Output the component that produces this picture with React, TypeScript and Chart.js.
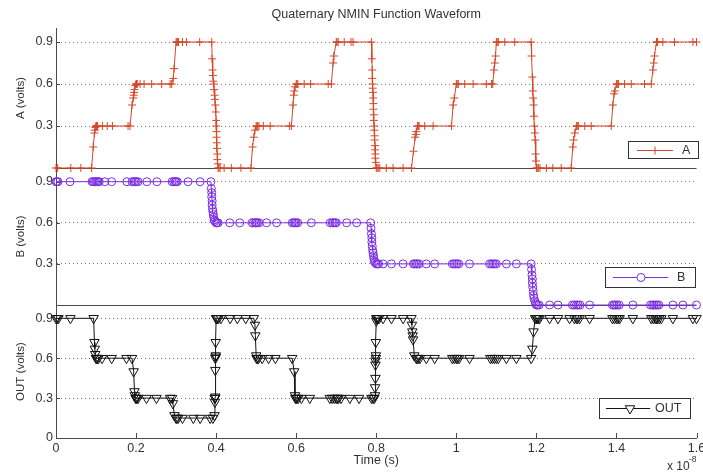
import React, { useEffect, useRef } from 'react';
import { Chart, registerables } from 'chart.js';

Chart.register(...registerables);

// ---------- text ----------
const chartTitle = 'Quaternary NMIN Function Waveform';
const xAxisTitle = 'Time (s)';
const yTitleA = 'A (volts)';
const yTitleB = 'B (volts)';
const yTitleOut = 'OUT (volts)';
const xExponentBase = 'x 10';
const xExponentPower = '-8';

// ---------- ticks ----------
const xTickValues = [0, 0.2, 0.4, 0.6, 0.8, 1, 1.2, 1.4, 1.6];
const xTickLabels = ['0', '0.2', '0.4', '0.6', '0.8', '1', '1.2', '1.4', '1.6'];
const yTickValuesAB = [0.3, 0.6, 0.9];
const yTickLabelsAB = ['0.3', '0.6', '0.9'];
const yTickValuesOut = [0, 0.3, 0.6, 0.9];
const yTickLabelsOut = ['0', '0.3', '0.6', '0.9'];

// ---------- series (time in units of 1e-8 s, value in volts) ----------
const seriesA: [number, number][] = [
  [0, 0], [0.004, 0], [0.037, 0], [0.062, 0], [0.089, 0],
  [0.093, 0.15], [0.096, 0.25], [0.097, 0.27], [0.098, 0.29], [0.1, 0.3], [0.101, 0.3], [0.102, 0.3], [0.104, 0.3],
  [0.116, 0.3], [0.128, 0.3], [0.141, 0.3], [0.18, 0.3], [0.185, 0.3],
  [0.19, 0.45], [0.193, 0.5], [0.194, 0.52], [0.195, 0.54], [0.196, 0.56], [0.198, 0.59], [0.2, 0.6], [0.201, 0.6], [0.203, 0.6],
  [0.21, 0.6], [0.22, 0.6], [0.239, 0.6], [0.264, 0.6], [0.285, 0.6], [0.289, 0.6],
  [0.293, 0.64], [0.295, 0.71], [0.3, 0.9], [0.302, 0.9], [0.304, 0.9], [0.306, 0.9],
  [0.316, 0.9], [0.326, 0.9], [0.359, 0.9], [0.389, 0.9],
  [0.39, 0.78], [0.391, 0.7], [0.392, 0.66], [0.393, 0.62], [0.394, 0.6], [0.395, 0.56], [0.396, 0.52], [0.397, 0.49],
  [0.398, 0.45], [0.399, 0.4], [0.4, 0.34], [0.4, 0.3], [0.401, 0.26], [0.401, 0.22], [0.402, 0.18], [0.402, 0.14],
  [0.403, 0.1], [0.403, 0.06], [0.404, 0.03], [0.405, 0],
  [0.407, 0], [0.41, 0], [0.42, 0], [0.438, 0], [0.462, 0], [0.487, 0],
  [0.491, 0.15], [0.494, 0.22], [0.497, 0.27], [0.5, 0.3], [0.502, 0.3], [0.504, 0.3], [0.507, 0.3],
  [0.518, 0.3], [0.535, 0.3], [0.583, 0.3], [0.588, 0.3],
  [0.592, 0.45], [0.594, 0.52], [0.595, 0.55], [0.597, 0.58], [0.6, 0.6], [0.602, 0.6], [0.604, 0.6],
  [0.62, 0.6], [0.636, 0.6], [0.68, 0.6], [0.688, 0.6],
  [0.692, 0.75], [0.694, 0.8], [0.7, 0.9], [0.702, 0.9], [0.705, 0.9],
  [0.72, 0.9], [0.737, 0.9], [0.742, 0.9], [0.788, 0.9],
  [0.789, 0.78], [0.79, 0.7], [0.79, 0.64], [0.791, 0.6], [0.791, 0.57], [0.792, 0.54], [0.792, 0.5], [0.793, 0.46],
  [0.793, 0.42], [0.794, 0.38], [0.794, 0.34], [0.795, 0.3], [0.795, 0.27], [0.796, 0.23], [0.796, 0.2], [0.797, 0.16],
  [0.797, 0.13], [0.798, 0.1], [0.798, 0.07], [0.799, 0.04], [0.8, 0],
  [0.802, 0], [0.805, 0], [0.809, 0], [0.825, 0], [0.842, 0], [0.867, 0], [0.888, 0],
  [0.893, 0.12], [0.897, 0.22], [0.899, 0.24], [0.9, 0.26], [0.903, 0.3], [0.905, 0.3], [0.907, 0.3],
  [0.921, 0.3], [0.942, 0.3], [0.988, 0.3],
  [0.992, 0.45], [0.995, 0.5], [1.0, 0.6], [1.002, 0.6], [1.005, 0.6],
  [1.021, 0.6], [1.042, 0.6], [1.075, 0.6], [1.088, 0.6], [1.091, 0.6],
  [1.094, 0.7], [1.096, 0.75], [1.098, 0.8], [1.1, 0.9], [1.102, 0.9], [1.105, 0.9],
  [1.121, 0.9], [1.146, 0.9], [1.187, 0.9],
  [1.188, 0.8], [1.19, 0.65], [1.191, 0.55], [1.192, 0.5], [1.193, 0.45], [1.194, 0.37], [1.195, 0.3], [1.196, 0.25],
  [1.197, 0.2], [1.198, 0.1], [1.199, 0.05], [1.2, 0],
  [1.202, 0], [1.205, 0], [1.209, 0], [1.225, 0], [1.241, 0], [1.262, 0], [1.287, 0],
  [1.291, 0.15], [1.293, 0.2], [1.296, 0.25], [1.3, 0.3], [1.302, 0.3], [1.305, 0.3],
  [1.321, 0.3], [1.337, 0.3], [1.387, 0.3],
  [1.391, 0.45], [1.394, 0.53], [1.396, 0.55], [1.4, 0.6], [1.402, 0.6], [1.405, 0.6],
  [1.42, 0.6], [1.437, 0.6], [1.47, 0.6], [1.487, 0.6],
  [1.491, 0.7], [1.493, 0.75], [1.495, 0.8], [1.5, 0.9], [1.501, 0.9], [1.503, 0.9],
  [1.516, 0.9], [1.545, 0.9], [1.591, 0.9], [1.6, 0.9],
];

const seriesB: [number, number][] = [
  [0, 0.9], [0.002, 0.9], [0.005, 0.9], [0.035, 0.9],
  [0.09, 0.9], [0.093, 0.9], [0.096, 0.9], [0.099, 0.9], [0.102, 0.9], [0.105, 0.9], [0.108, 0.9],
  [0.122, 0.9], [0.139, 0.9], [0.177, 0.9], [0.19, 0.9], [0.194, 0.9], [0.198, 0.9], [0.201, 0.9], [0.205, 0.9],
  [0.227, 0.9], [0.252, 0.9], [0.29, 0.9], [0.294, 0.9], [0.298, 0.9], [0.3, 0.9], [0.303, 0.9], [0.33, 0.9], [0.36, 0.9], [0.387, 0.9],
  [0.388, 0.85], [0.389, 0.82], [0.389, 0.79], [0.39, 0.76], [0.39, 0.73], [0.391, 0.7], [0.392, 0.68], [0.393, 0.66],
  [0.394, 0.64], [0.395, 0.62], [0.397, 0.61], [0.4, 0.6], [0.402, 0.6], [0.405, 0.6],
  [0.434, 0.6], [0.459, 0.6], [0.49, 0.6], [0.494, 0.6], [0.498, 0.6], [0.5, 0.6], [0.503, 0.6], [0.507, 0.6],
  [0.526, 0.6], [0.551, 0.6], [0.59, 0.6], [0.594, 0.6], [0.597, 0.6], [0.6, 0.6], [0.604, 0.6], [0.638, 0.6],
  [0.685, 0.6], [0.69, 0.6], [0.693, 0.6], [0.697, 0.6], [0.7, 0.6], [0.726, 0.6], [0.751, 0.6], [0.786, 0.6],
  [0.787, 0.56], [0.788, 0.52], [0.789, 0.49], [0.789, 0.46], [0.79, 0.43], [0.791, 0.4], [0.792, 0.38], [0.793, 0.36],
  [0.794, 0.34], [0.795, 0.32], [0.797, 0.31], [0.8, 0.3], [0.803, 0.3], [0.806, 0.3],
  [0.817, 0.3], [0.838, 0.3], [0.867, 0.3], [0.893, 0.3], [0.896, 0.3], [0.9, 0.3], [0.903, 0.3], [0.907, 0.3],
  [0.925, 0.3], [0.946, 0.3], [0.99, 0.3], [0.994, 0.3], [0.998, 0.3], [1.002, 0.3], [1.006, 0.3], [1.033, 0.3],
  [1.083, 0.3], [1.088, 0.3], [1.092, 0.3], [1.096, 0.3], [1.1, 0.3], [1.125, 0.3], [1.15, 0.3], [1.187, 0.3],
  [1.188, 0.26], [1.189, 0.22], [1.19, 0.19], [1.19, 0.16], [1.191, 0.13], [1.192, 0.1], [1.193, 0.07], [1.194, 0.05],
  [1.196, 0.03], [1.198, 0.01], [1.2, 0], [1.203, 0], [1.207, 0],
  [1.233, 0], [1.254, 0], [1.29, 0], [1.295, 0], [1.3, 0], [1.304, 0], [1.309, 0], [1.333, 0],
  [1.39, 0], [1.394, 0], [1.398, 0], [1.402, 0], [1.407, 0], [1.441, 0],
  [1.485, 0], [1.49, 0], [1.494, 0], [1.498, 0], [1.502, 0], [1.506, 0], [1.541, 0], [1.566, 0], [1.6, 0],
];

const seriesOut: [number, number][] = [
  [0, 0.9], [0.003, 0.9], [0.006, 0.9], [0.036, 0.9], [0.094, 0.9],
  [0.096, 0.72], [0.097, 0.67], [0.098, 0.63], [0.1, 0.6], [0.101, 0.6], [0.103, 0.6], [0.106, 0.6],
  [0.115, 0.6], [0.139, 0.6], [0.176, 0.6], [0.19, 0.6],
  [0.194, 0.5], [0.196, 0.35], [0.197, 0.32], [0.199, 0.3], [0.2, 0.3], [0.202, 0.3], [0.205, 0.3],
  [0.226, 0.3], [0.251, 0.3], [0.285, 0.3], [0.29, 0.3],
  [0.292, 0.26], [0.296, 0.17], [0.3, 0.15], [0.302, 0.15], [0.305, 0.15],
  [0.316, 0.15], [0.343, 0.15], [0.36, 0.15], [0.385, 0.15], [0.392, 0.15],
  [0.396, 0.17], [0.397, 0.27], [0.397, 0.3], [0.397, 0.3], [0.398, 0.31], [0.398, 0.51], [0.398, 0.6], [0.399, 0.61],
  [0.399, 0.62], [0.399, 0.72], [0.4, 0.9], [0.401, 0.9], [0.403, 0.9], [0.406, 0.9],
  [0.412, 0.9], [0.435, 0.9], [0.453, 0.9], [0.474, 0.9], [0.494, 0.9],
  [0.497, 0.85], [0.498, 0.77], [0.5, 0.62], [0.501, 0.6], [0.503, 0.6], [0.506, 0.6],
  [0.515, 0.6], [0.531, 0.6], [0.548, 0.6], [0.59, 0.6],
  [0.595, 0.5], [0.597, 0.32], [0.598, 0.3], [0.6, 0.3], [0.602, 0.3], [0.605, 0.3],
  [0.613, 0.3], [0.634, 0.3], [0.684, 0.3], [0.69, 0.3], [0.695, 0.3], [0.7, 0.3], [0.703, 0.3], [0.706, 0.3],
  [0.712, 0.3], [0.734, 0.3], [0.757, 0.3], [0.788, 0.3], [0.792, 0.3], [0.795, 0.3],
  [0.797, 0.32], [0.797, 0.38], [0.798, 0.45], [0.798, 0.55], [0.798, 0.58], [0.799, 0.6], [0.799, 0.62], [0.799, 0.72],
  [0.8, 0.88], [0.8, 0.9], [0.802, 0.9], [0.804, 0.9], [0.807, 0.9],
  [0.817, 0.9], [0.838, 0.9], [0.867, 0.9], [0.888, 0.9],
  [0.889, 0.85], [0.89, 0.8], [0.891, 0.77], [0.892, 0.74], [0.895, 0.62], [0.9, 0.6], [0.902, 0.6], [0.905, 0.6], [0.909, 0.6],
  [0.925, 0.6], [0.946, 0.6], [0.99, 0.6], [0.995, 0.6], [1.0, 0.6], [1.003, 0.6], [1.007, 0.6], [1.033, 0.6],
  [1.085, 0.6], [1.09, 0.6], [1.095, 0.6], [1.1, 0.6], [1.105, 0.6], [1.125, 0.6], [1.15, 0.6], [1.187, 0.6],
  [1.19, 0.67], [1.193, 0.8], [1.197, 0.9], [1.2, 0.9], [1.202, 0.9], [1.205, 0.9], [1.208, 0.9],
  [1.233, 0.9], [1.254, 0.9], [1.283, 0.9], [1.295, 0.9], [1.3, 0.9], [1.303, 0.9], [1.308, 0.9], [1.333, 0.9],
  [1.39, 0.9], [1.395, 0.9], [1.4, 0.9], [1.404, 0.9], [1.408, 0.9], [1.441, 0.9],
  [1.487, 0.9], [1.492, 0.9], [1.497, 0.9], [1.5, 0.9], [1.503, 0.9], [1.507, 0.9], [1.512, 0.9], [1.541, 0.9], [1.591, 0.9],
  [1.6, 0.9],
];

// ---------- style ----------
const FONT = '"Liberation Sans", Arial, Helvetica, sans-serif';
const TEXT_COLOR = '#333333';
const AXIS_COLOR = '#4a4a4a';
const GRID_COLOR = '#7a7a7a';
const COLOR_A = '#d4492a';
const COLOR_B = '#7b2fe0';
const COLOR_OUT = '#111111';

function drawMarker(ctx: CanvasRenderingContext2D, kind: string, x: number, y: number, color: string) {
  ctx.save();
  ctx.strokeStyle = color;
  ctx.lineWidth = 1;
  ctx.beginPath();
  if (kind === 'cross') {
    ctx.moveTo(x - 4, y); ctx.lineTo(x + 4, y);
    ctx.moveTo(x, y - 4); ctx.lineTo(x, y + 4);
  } else if (kind === 'circle') {
    ctx.fillStyle = '#fff';
    ctx.arc(x, y, 4, 0, Math.PI * 2);
    ctx.fill();
  } else {
    const r = 5.5;
    ctx.fillStyle = '#fff';
    ctx.moveTo(x, y + r);
    ctx.lineTo(x - r * Math.sin(Math.PI / 3), y - r / 2);
    ctx.lineTo(x + r * Math.sin(Math.PI / 3), y - r / 2);
    ctx.closePath();
    ctx.fill();
  }
  ctx.stroke();
  ctx.restore();
}

const decorPlugin = {
  id: 'matlabDecor',
  beforeDatasetsDraw(chart: any) {
    const ctx = chart.ctx as CanvasRenderingContext2D;
    const { left, right } = chart.chartArea;
    ctx.save();
    ctx.strokeStyle = AXIS_COLOR;
    ctx.lineWidth = 1;
    ['yA', 'yB'].forEach((id) => {
      const y = Math.round(chart.scales[id].bottom) + 0.5;
      ctx.beginPath();
      ctx.moveTo(left, y);
      ctx.lineTo(right, y);
      ctx.stroke();
    });
    // inward tick marks on y axes
    ['yA', 'yB', 'yOut'].forEach((id) => {
      const s = chart.scales[id];
      s.ticks.forEach((t: any) => {
        const y = Math.round(s.getPixelForValue(t.value)) + 0.5;
        ctx.beginPath();
        ctx.moveTo(left, y);
        ctx.lineTo(left + 4, y);
        ctx.stroke();
      });
    });
    // inward tick marks on x axis
    const sx = chart.scales.x;
    const yb = chart.chartArea.bottom;
    sx.ticks.forEach((t: any) => {
      const x = Math.round(sx.getPixelForValue(t.value)) + 0.5;
      ctx.beginPath();
      ctx.moveTo(x, yb);
      ctx.lineTo(x, yb - 5);
      ctx.stroke();
    });
    ctx.restore();
  },
  afterDraw(chart: any) {
    const ctx = chart.ctx as CanvasRenderingContext2D;
    const { right } = chart.chartArea;
    const legends = [
      { scale: 'yA', label: chart.data.datasets[0].label, color: COLOR_A, marker: 'cross', rOff: 1, bOff: 10, w: 70, h: 17, l1: 9, l2: 45, m: 27, t: 54 },
      { scale: 'yB', label: chart.data.datasets[1].label, color: COLOR_B, marker: 'circle', rOff: -2, bOff: 18, w: 90, h: 20, l1: 8, l2: 63, m: 36, t: 72 },
      { scale: 'yOut', label: chart.data.datasets[2].label, color: COLOR_OUT, marker: 'triangle', rOff: -7, bOff: 20, w: 91, h: 20, l1: 7, l2: 51, m: 31, t: 56 },
    ];
    ctx.save();
    legends.forEach((lg) => {
      const s = chart.scales[lg.scale];
      const x = Math.round(right + lg.rOff - lg.w);
      const y = Math.round(s.bottom - lg.bOff - lg.h);
      ctx.fillStyle = '#ffffff';
      ctx.fillRect(x, y, lg.w, lg.h);
      ctx.strokeStyle = '#333';
      ctx.lineWidth = 1;
      ctx.strokeRect(x + 0.5, y + 0.5, lg.w, lg.h);
      const cy = Math.round(y + lg.h / 2) + 0.5;
      ctx.strokeStyle = lg.color;
      ctx.beginPath();
      ctx.moveTo(x + lg.l1, cy);
      ctx.lineTo(x + lg.l2, cy);
      ctx.stroke();
      drawMarker(ctx, lg.marker, x + lg.m, cy, lg.color);
      ctx.fillStyle = TEXT_COLOR;
      ctx.font = `12.5px ${FONT}`;
      ctx.textAlign = 'left';
      ctx.textBaseline = 'middle';
      ctx.fillText(lg.label, x + lg.t, cy + 0.5);
    });
    // exponent label
    ctx.fillStyle = TEXT_COLOR;
    ctx.textBaseline = 'middle';
    ctx.textAlign = 'left';
    ctx.font = `12px ${FONT}`;
    ctx.fillText(xExponentBase, 667, 467);
    ctx.font = `8.5px ${FONT}`;
    ctx.fillText(xExponentPower, 689, 460);
    ctx.restore();
  },
};

function yScale(ticks: number[], labels: string[], title: string, weight: number) {
  return {
    type: 'linear',
    position: 'left',
    stack: 'panels',
    stackWeight: weight,
    min: 0,
    max: 1,
    afterBuildTicks: (s: any) => {
      s.ticks = ticks.map((v) => ({ value: v }));
    },
    afterFit: (s: any) => {
      s.width = 56;
      s.paddingTop = 0;
      s.paddingBottom = 0;
    },
    ticks: {
      callback: (_v: any, i: number) => labels[i],
      font: { family: FONT, size: 12.5 },
      color: TEXT_COLOR,
      padding: 3,
    },
    grid: { color: GRID_COLOR, lineWidth: 1, drawTicks: false },
    border: { display: true, color: AXIS_COLOR, width: 1, dash: [1, 3] },
    title: {
      display: true,
      text: title,
      font: { family: FONT, size: 11.5 },
      color: TEXT_COLOR,
      padding: { top: 14, bottom: 0 },
    },
  };
}

export default function App() {
  const canvasRef = useRef<HTMLCanvasElement | null>(null);

  useEffect(() => {
    const canvas = canvasRef.current;
    if (!canvas) return;
    const chart = new Chart(canvas, {
      type: 'line',
      data: {
        datasets: [
          {
            label: 'A',
            data: seriesA.map(([x, y]) => ({ x, y })),
            xAxisID: 'x',
            yAxisID: 'yA',
            borderColor: COLOR_A,
            borderWidth: 1,
            pointStyle: 'cross',
            pointRadius: 4,
            pointBorderWidth: 1,
            pointBorderColor: COLOR_A,
            pointBackgroundColor: COLOR_A,
            tension: 0,
            fill: false,
            clip: false,
          },
          {
            label: 'B',
            data: seriesB.map(([x, y]) => ({ x, y })),
            xAxisID: 'x',
            yAxisID: 'yB',
            borderColor: COLOR_B,
            borderWidth: 1,
            pointStyle: 'circle',
            pointRadius: 4,
            pointBorderWidth: 1,
            pointBorderColor: COLOR_B,
            pointBackgroundColor: 'rgba(0,0,0,0)',
            tension: 0,
            fill: false,
            clip: false,
          },
          {
            label: 'OUT',
            data: seriesOut.map(([x, y]) => ({ x, y })),
            xAxisID: 'x',
            yAxisID: 'yOut',
            borderColor: COLOR_OUT,
            borderWidth: 1,
            pointStyle: 'triangle',
            pointRotation: 180,
            pointRadius: 5.5,
            pointBorderWidth: 1,
            pointBorderColor: COLOR_OUT,
            pointBackgroundColor: 'rgba(0,0,0,0)',
            tension: 0,
            fill: false,
            clip: false,
          },
        ],
      },
      options: {
        animation: false,
        responsive: false,
        maintainAspectRatio: false,
        events: [],
        layout: { padding: { left: 0, right: 6, top: 0, bottom: 0 } },
        plugins: {
          legend: { display: false },
          tooltip: { enabled: false },
          title: {
            display: true,
            fullSize: false,
            text: chartTitle,
            color: TEXT_COLOR,
            font: { family: FONT, size: 12.5, weight: 'normal' },
            padding: { top: 7.5, bottom: 5.5 },
          },
        },
        scales: {
          x: {
            type: 'linear',
            position: 'bottom',
            min: 0,
            max: 1.6,
            afterBuildTicks: (s: any) => {
              s.ticks = xTickValues.map((v) => ({ value: v }));
            },
            afterFit: (s: any) => {
              s.height = 36;
              s.paddingLeft = 0;
              s.paddingRight = 0;
            },
            ticks: {
              callback: (_v: any, i: number) => xTickLabels[i],
              font: { family: FONT, size: 12.5 },
              color: TEXT_COLOR,
              padding: 3,
              maxRotation: 0,
              autoSkip: false,
            },
            grid: { display: false, drawTicks: false },
            border: { display: true, color: AXIS_COLOR, width: 1 },
            title: {
              display: true,
              text: xAxisTitle,
              font: { family: FONT, size: 12.5 },
              color: TEXT_COLOR,
              padding: { top: 0, bottom: 6 },
            },
          },
          yOut: yScale(yTickValuesOut, yTickLabelsOut, yTitleOut, 133),
          yB: yScale(yTickValuesAB, yTickLabelsAB, yTitleB, 137),
          yA: yScale(yTickValuesAB, yTickLabelsAB, yTitleA, 140),
        } as any,
      },
      plugins: [decorPlugin],
    } as any);
    return () => chart.destroy();
  }, []);

  return (
    <div style={{ position: 'absolute', left: 0, top: 0, width: 703, height: 474, background: '#fff' }}>
      <canvas ref={canvasRef} width={703} height={474} style={{ display: 'block', width: 703, height: 474 }} />
    </div>
  );
}
